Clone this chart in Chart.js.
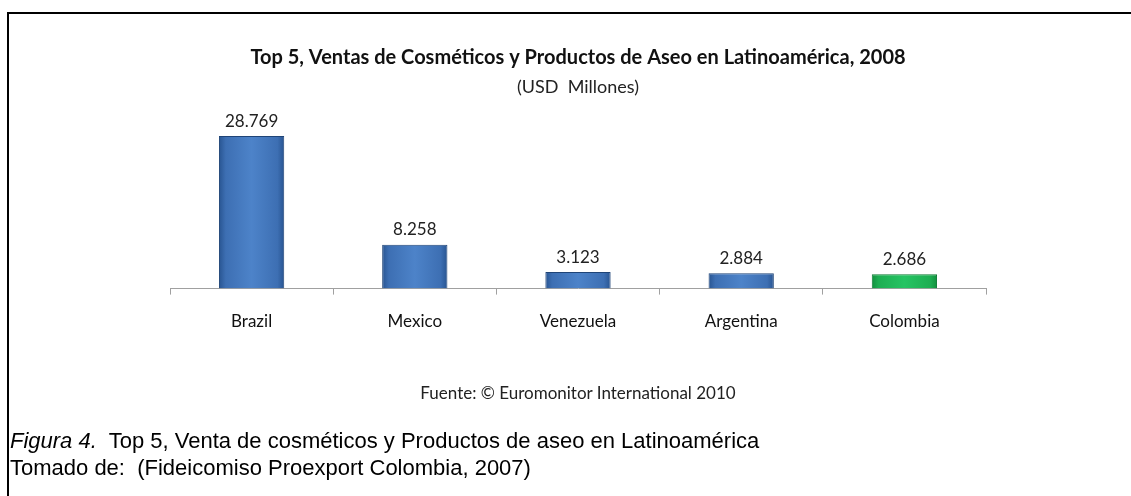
<!DOCTYPE html>
<html>
<head>
<meta charset="utf-8">
<script src="https://cdn.jsdelivr.net/npm/chart.js@4.4.0/dist/chart.umd.min.js"></script>
<style>
  html, body { margin: 0; padding: 0; background: #fff; }
  #wrap { position: relative; width: 1131px; height: 496px; overflow: hidden; }
  #frame { position: absolute; left: 7px; top: 12px; right: -10px; bottom: -10px;
           border-top: 2px solid #000; border-left: 2px solid #000; }
  #chart { position: absolute; left: 0; top: 0; }
  .fuente { position: absolute; left: 0; width: 1156px; top: 382px; text-align: center;
            font-family: Lato, sans-serif; font-size: 17px; color: #222; }
  .caption { position: absolute; left: 10px; font-family: "Liberation Sans", Arial, sans-serif;
             font-size: 22px; color: #000; white-space: pre; }
</style>
</head>
<body>
<div id="wrap">
  <canvas id="chart" width="1131" height="496"></canvas>
  <div id="frame"></div>
  <div class="fuente">Fuente: © Euromonitor International 2010</div>
  <div class="caption" style="top:428px"><i>Figura 4.</i>  Top 5, Venta de cosméticos y Productos de aseo en Latinoamérica</div>
  <div class="caption" style="top:455px">Tomado de:  (Fideicomiso Proexport Colombia, 2007)</div>
</div>
<script>
// Data
const paises = ['Brazil', 'Mexico', 'Venezuela', 'Argentina', 'Colombia'];
const ventas = [28.769, 8.258, 3.123, 2.884, 2.686];
const etiquetas = ['28.769', '8.258', '3.123', '2.884', '2.686'];

// Colombia en verde, el resto azul
function barFill(ctx) {
    const chart = ctx.chart;
    const green = ctx.dataIndex === 4;
    const base = green ? '#1fb85a' : '#4679bd';
    if (!chart.chartArea) return base;
    const x = chart.scales.x.getPixelForValue(ctx.dataIndex);
    const w = 34;
    const g = chart.ctx.createLinearGradient(x - w, 0, x + w, 0);
    if (green) {
        g.addColorStop(0, '#0f8a3a');
        g.addColorStop(0.12, '#1dae52');
        g.addColorStop(0.5, '#25c463');
        g.addColorStop(0.88, '#1dae52');
        g.addColorStop(1, '#0f8a3a');
    } else {
        g.addColorStop(0, '#244f8a');
        g.addColorStop(0.12, '#3d6fb3');
        g.addColorStop(0.5, '#4d83c9');
        g.addColorStop(0.88, '#3d6fb3');
        g.addColorStop(1, '#244f8a');
    }
    return g;
}

// Etiquetas de valor encima de cada barra
const valueLabels = {
    id: 'valueLabels',
    afterDatasetsDraw(chart) {
        const c = chart.ctx;
        const meta = chart.getDatasetMeta(0);
        c.save();
        c.font = '17px Lato, sans-serif';
        c.fillStyle = '#222';
        c.textAlign = 'center';
        c.textBaseline = 'middle';
        meta.data.forEach((bar, i) => {
            c.fillText(etiquetas[i], bar.x, bar.y - 15);
        });
        c.restore();
    }
};

new Chart(document.getElementById('chart'), {
    type: 'bar',
    data: {
        labels: paises,
        datasets: [{
            data: ventas,
            backgroundColor: barFill,
            borderColor: ctx => ctx.dataIndex === 4 ? '#0d7a33' : '#1f4477',
            borderWidth: 1,
            borderSkipped: 'bottom',
            barPercentage: 0.4,
            categoryPercentage: 1
        }]
    },
    options: {
        responsive: false,
        animation: false,
        layout: { padding: { left: 170, right: 145, top: 0, bottom: 147 } },
        plugins: {
            legend: { display: false },
            tooltip: { enabled: false },
            title: {
                display: true,
                text: 'Top 5, Ventas de Cosméticos y Productos de Aseo en Latinoamérica, 2008',
                color: '#111',
                font: { family: 'Lato', size: 20, weight: 'bold' },
                padding: { top: 46, bottom: 4 }
            },
            subtitle: {
                display: true,
                text: '(USD  Millones)',
                color: '#222',
                font: { family: 'Lato', size: 18 },
                padding: { top: 2, bottom: 16 }
            }
        },
        scales: {
            x: {
                grid: { offset: true, drawOnChartArea: false, tickLength: 6, color: '#a0a0a0' },
                border: { color: '#a0a0a0' },
                ticks: { color: '#111', padding: 17, font: { family: 'Lato', size: 17 } }
            },
            y: {
                display: false,
                min: 0,
                max: 33
            }
        }
    },
    plugins: [valueLabels]
});
</script>
</body>
</html>
